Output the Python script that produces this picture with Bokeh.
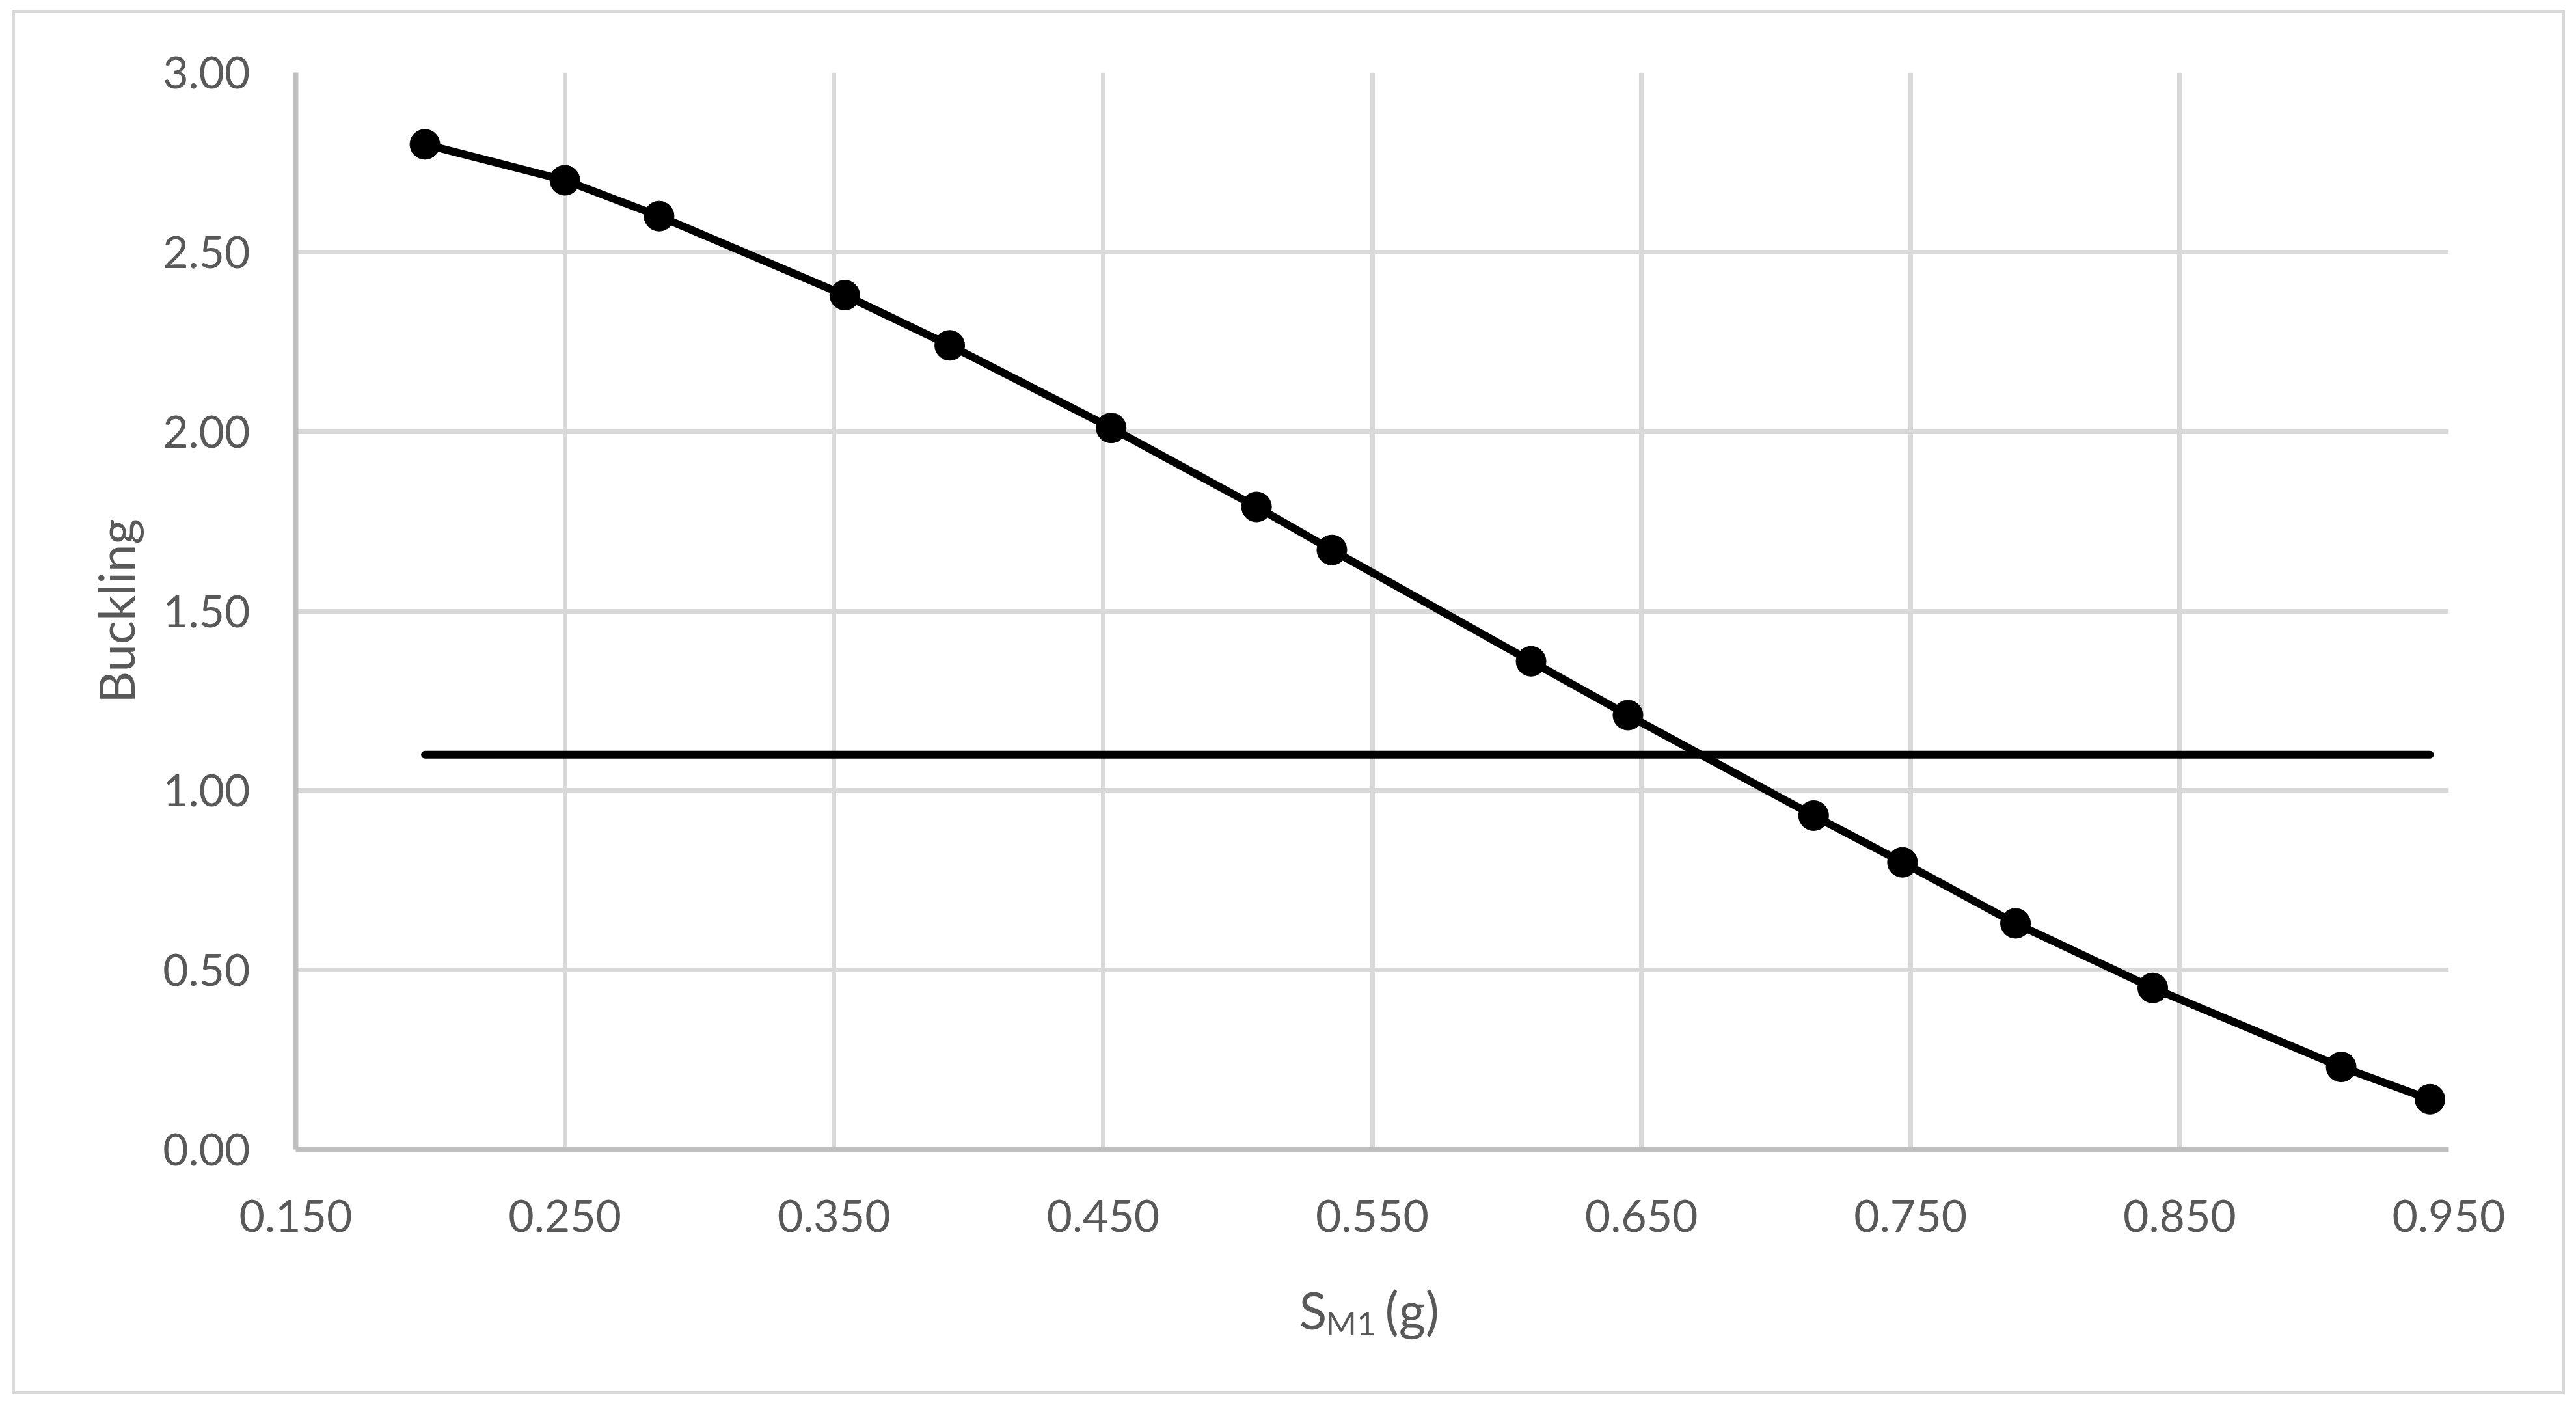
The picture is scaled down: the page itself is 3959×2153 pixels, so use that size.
from bokeh.plotting import figure
from bokeh.models import Range1d, FixedTicker, NumeralTickFormatter, Label, ColumnDataSource, InlineStyleSheet
from bokeh.embed import file_html
from bokeh.resources import INLINE

# ---- data ----
sm1 = [0.198, 0.250, 0.285, 0.354, 0.393, 0.453, 0.507, 0.535,
       0.609, 0.645, 0.714, 0.747, 0.789, 0.840, 0.910, 0.943]
buckling = [2.80, 2.70, 2.60, 2.38, 2.24, 2.01, 1.79, 1.67,
            1.36, 1.21, 0.93, 0.80, 0.63, 0.45, 0.23, 0.14]
limit_value = 1.10
x_ticks = [0.15, 0.25, 0.35, 0.45, 0.55, 0.65, 0.75, 0.85, 0.95]
y_ticks = [0.0, 0.5, 1.0, 1.5, 2.0, 2.5, 3.0]
y_title = "Buckling"
x_title_main = "S"
x_title_sub = "M1"
x_title_rest = "(g)"

FONT = "Lato"
TXT = "#595959"
GRID = "#d9d9d9"
AXIS = "#bfbfbf"

p = figure(width=3951, height=2145, output_backend="svg", toolbar_location=None,
           x_range=Range1d(0.15, 0.95), y_range=Range1d(0.0, 3.0),
           min_border_left=454, min_border_top=111, min_border_right=188, min_border_bottom=379,
           background_fill_color="white", border_fill_color="white")
p.outline_line_color = None

# light grey chart-area border drawn over the canvas
border_css = (":host::after { content: ''; position: absolute; left: 18px; top: 15px; "
              "width: 3914px; height: 2118px; border: 5px solid #d9d9d9; "
              "box-sizing: content-box; pointer-events: none; z-index: 100; }")
p.stylesheets = [InlineStyleSheet(css=border_css)]

p.xaxis.ticker = FixedTicker(ticks=x_ticks)
p.yaxis.ticker = FixedTicker(ticks=y_ticks)
p.xaxis.formatter = NumeralTickFormatter(format="0.000")
p.yaxis.formatter = NumeralTickFormatter(format="0.00")

for ax in (p.xaxis, p.yaxis):
    ax.axis_line_color = AXIS
    ax.axis_line_width = 8
    ax.major_tick_line_color = None
    ax.minor_tick_line_color = None
    ax.major_tick_out = 0
    ax.major_tick_in = 0
    ax.minor_tick_out = 0
    ax.minor_tick_in = 0
    ax.major_label_text_font = FONT
    ax.major_label_text_font_size = "68px"
    ax.major_label_text_color = TXT

p.xaxis.major_label_standoff = 77
p.yaxis.major_label_standoff = 70
p.yaxis.axis_label = y_title
p.yaxis.axis_label_text_font = FONT
p.yaxis.axis_label_text_font_size = "76px"
p.yaxis.axis_label_text_font_style = "normal"
p.yaxis.axis_label_text_color = TXT
p.yaxis.axis_label_standoff = 24

p.xgrid.grid_line_color = GRID
p.ygrid.grid_line_color = GRID
p.xgrid.grid_line_width = 7
p.ygrid.grid_line_width = 7

src = ColumnDataSource(dict(x=sm1, y=buckling))
p.line("x", "y", source=src, line_color="black", line_width=12, line_join="round", line_cap="round")
p.scatter("x", "y", source=src, size=46, marker="circle", fill_color="black", line_color="black")

lim = ColumnDataSource(dict(x=[sm1[0], sm1[-1]], y=[limit_value, limit_value]))
p.line("x", "y", source=lim, line_color="black", line_width=12, line_cap="round")

# x axis title with subscript (page-pixel positions converted to data units)
px_per_x = 4136.0
px_per_y = 551.67
x0_px = 454.0
y0_px = 1766.0

def dx(px):
    return 0.15 + (px - x0_px) / px_per_x

def dy(py):
    return -(py - y0_px) / px_per_y

p.add_layout(Label(x=dx(1996), y=dy(2012), text=x_title_main, text_font=FONT,
                   text_font_size="79px", text_color=TXT, text_baseline="alphabetic",
                   text_align="left"), "above")
p.add_layout(Label(x=dx(2037), y=dy(2032), text=x_title_sub, text_font=FONT,
                   text_font_size="51px", text_color=TXT, text_baseline="alphabetic",
                   text_align="left"), "below")
p.add_layout(Label(x=dx(2128), y=dy(2012), text=x_title_rest, text_font=FONT,
                   text_font_size="79px", text_color=TXT, text_baseline="alphabetic",
                   text_align="left"), "below")

open("out.html", "w").write(file_html(p, INLINE))
